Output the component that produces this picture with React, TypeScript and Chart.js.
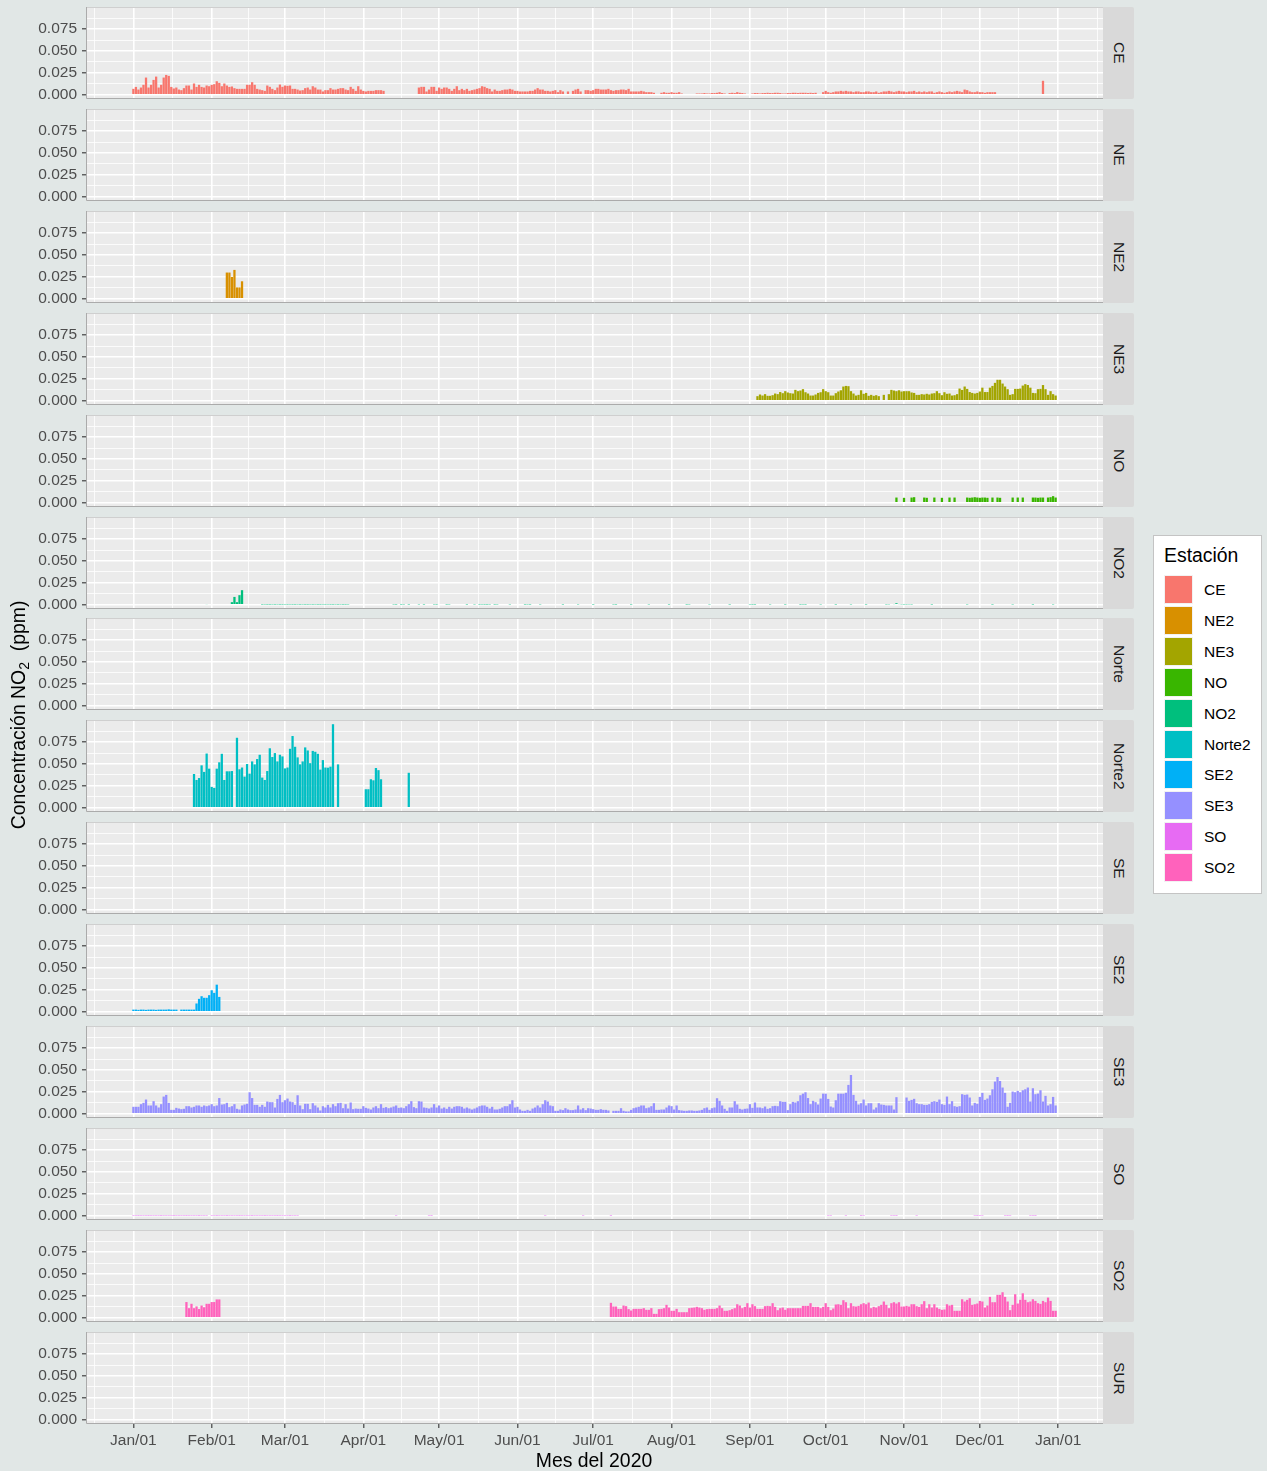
import React, { useEffect, useRef } from "react";
import { Chart, registerables } from "chart.js";

Chart.register(...registerables);

const FONT = "'Liberation Sans', Arial, Helvetica, sans-serif";
Chart.defaults.font.family = FONT;

// ---------- axes ----------
const X_MIN = -18.75;
const X_MAX = 383.75;
const MONTH_DAYS = [0, 31, 60, 91, 121, 152, 182, 213, 244, 274, 305, 335, 366];
const MONTH_LABELS = ["Jan/01", "Feb/01", "Mar/01", "Apr/01", "May/01", "Jun/01", "Jul/01", "Aug/01", "Sep/01", "Oct/01", "Nov/01", "Dec/01", "Jan/01"];
const MINOR_DAYS = [-15.5, 15.5, 45.5, 75.5, 106, 136.5, 167, 197.5, 228.5, 259, 289.5, 320, 350.5, 381.5];

const Y_MIN = -0.0048;
const Y_MAX = 0.1003;
const Y_TICKS = [0, 0.025, 0.05, 0.075];
const Y_TICK_LABELS = ["0.000", "0.025", "0.050", "0.075"];
const Y_MINOR = [0.0125, 0.0375, 0.0625, 0.0875];

// ---------- stations ----------
const STATIONS = ["CE", "NE", "NE2", "NE3", "NO", "NO2", "Norte", "Norte2", "SE", "SE2", "SE3", "SO", "SO2", "SUR"];
const LEGEND_STATIONS = ["CE", "NE2", "NE3", "NO", "NO2", "Norte2", "SE2", "SE3", "SO", "SO2"];
const STATION_COLORS: Record<string, string> = {
  CE: "#F8766D", NE2: "#D89000", NE3: "#A3A500", NO: "#39B600", NO2: "#00BF7D",
  Norte2: "#00BFC4", SE2: "#00B0F6", SE3: "#9590FF", SO: "#E76BF3", SO2: "#FF62BC",
};

// ---------- data: [first day index (0 = Jan 1 2020), daily values in ppm] ----------
type Segment = [number, (number | null)[]];

const CE_SEGMENTS: Segment[] = [
  [0, [
    0.0068, 0.009, 0.006, 0.0083, 0.0114, 0.0197, 0.0083, 0.0114, 0.017, 0.0208,
    0.0083, 0.0114, 0.0197, 0.0227, 0.0216, 0.009, 0.0072, 0.0083, 0.006, 0.0053,
    0.0076, 0.0106, 0.0106, 0.006, 0.0129, 0.009, 0.0114, 0.009, 0.0083, 0.0106,
    0.0098, 0.0114, 0.0121, 0.0155, 0.0136, 0.0098, 0.0129, 0.0106, 0.009, 0.0095,
    0.0076, 0.0068, 0.0068, 0.0068, 0.0068, 0.0114, 0.0114, 0.0144, 0.0114, 0.0068,
    0.006, 0.0053, 0.0045, 0.0106, 0.0091, 0.0068, 0.0053, 0.0083, 0.0117, 0.0091,
    0.0106, 0.0102, 0.0106, 0.0068, 0.0068, 0.006, 0.0049, 0.0053, 0.0076, 0.0083,
    0.006, 0.0098, 0.0083, 0.006, 0.006, 0.0038, 0.0053, 0.0053, 0.0076, 0.006,
    0.006, 0.0068, 0.0076, 0.0076, 0.006, 0.0053, 0.0091, 0.0068, 0.0045, 0.0098,
    0.006, 0.0045, 0.0038, 0.0045, 0.0045, 0.0045, 0.0053, 0.0053, 0.0053, 0.0045,
  ]],
  [113, [
    0.0083, 0.0091, 0.0091, 0.0038, 0.006, 0.0091, 0.0091, 0.0045, 0.0083, 0.0068,
    0.0083, 0.0083, 0.0068, 0.0045, 0.0068, 0.0098, 0.0053, 0.0068, 0.0053, 0.0068,
    0.0045, 0.0053, 0.006, 0.0068, 0.0076, 0.0098, 0.0091, 0.0076, 0.0068, 0.0038,
    0.006, 0.0045, 0.0045, 0.0053, 0.006, 0.006, 0.0068, 0.006, 0.0045, 0.0045,
    0.0038, 0.0038, 0.0038, 0.0038, 0.0045, 0.0045, 0.006, 0.0076, 0.006, 0.006,
    0.0045, 0.0045, 0.0038, 0.0045, 0.0053, 0.003, 0.0053, 0.0038, null, 0.0038,
    null, 0.0045, 0.006, 0.0068, 0.0038, null, 0.0053, 0.0053, 0.0045, 0.0053,
    0.0068, 0.0068, 0.006, 0.006, 0.006, 0.0068, 0.0053, 0.0045, 0.0053, 0.0053,
    0.006, 0.006, 0.0053, 0.0068, 0.0038, 0.0038, 0.0038, 0.0038, 0.0045, 0.0038, 0.003, 0.003, 0.003, 0.0023,
  ]],
  [209, [0.0023, 0.003, 0.0023, 0.0023, 0.003, 0.0023, 0.0023, 0.003, 0.0015]],
  [223, [0.0015, 0.0015, 0.0015, 0.002, 0.0015, 0.0015, 0.002, 0.002, 0.0023, 0.003, 0.002, 0.0015]],
  [236, [0.002, 0.0023, 0.002, 0.003, 0.0023, 0.002, 0.0015]],
  [245, [
    0.0015, 0.002, 0.002, 0.0015, 0.002, 0.002, 0.0023, 0.002, 0.002, 0.0023,
    0.0023, 0.002, 0.0015, 0.0015, 0.002, 0.002, 0.0023, 0.0023, 0.002, 0.0023,
    0.0023, 0.0023, 0.002, 0.0023, 0.002, 0.0023,
  ]],
  [273, [
    0.003, 0.0045, 0.003, 0.0023, 0.003, 0.0038, 0.0038, 0.0045, 0.0038, 0.0045,
    0.0038, 0.0038, 0.003, 0.0038, 0.0038, 0.003, 0.003, 0.0038, 0.0038, 0.003,
    0.003, 0.0038, 0.0023, 0.003, 0.0038, 0.0038, 0.0045, 0.0038, 0.003, 0.0038,
    0.0045, 0.0038, 0.0038, 0.003, 0.0038, 0.0038, 0.0045, 0.003, 0.0038, 0.003,
    0.0038, 0.003, 0.0038, 0.0038, 0.0023, 0.003, 0.0038, 0.003, 0.0023, 0.003,
    0.0038, 0.003, 0.0038, 0.0045, 0.0038, 0.003, 0.006, 0.0053, 0.0038, 0.003,
    0.003, 0.0038, 0.003, 0.003, 0.0023, 0.003, 0.003, 0.003, 0.003,
  ]],
  [360, [0.016]],
];

const NE2_SEGMENTS: Segment[] = [
  [37, [0.03, 0.03, 0.025, 0.033, 0.013, 0.013, 0.02]],
];

const NE3_SEGMENTS: Segment[] = [
  [247, [
    0.0053, 0.0072, 0.006, 0.0076, 0.0057, 0.0057, 0.0064, 0.0083, 0.0076, 0.01,
    0.0087, 0.011, 0.0095, 0.0087, 0.0083, 0.0125, 0.011, 0.0117, 0.0133, 0.0098,
    0.0083, 0.006, 0.006, 0.0072, 0.009, 0.0098, 0.0133, 0.011, 0.0098, 0.006,
    0.006, 0.0087, 0.0106, 0.012, 0.0163, 0.017, 0.0167, 0.011, 0.0083, 0.006,
    0.0068, 0.012, 0.008, 0.009, 0.0057, 0.0068, 0.0057, 0.0064, 0.0053,
  ]],
  [297, [0.0068]],
  [299, [
    0.0076, 0.0125, 0.0117, 0.011, 0.012, 0.0106, 0.011, 0.011, 0.011, 0.0095,
    0.009, 0.0068, 0.0068, 0.0076, 0.0072, 0.008, 0.0072, 0.0083, 0.0087, 0.011,
    0.0087, 0.0064, 0.0098, 0.008, 0.0083, 0.006, 0.0064, 0.0076, 0.014, 0.0125,
    0.0163, 0.0136, 0.01, 0.009, 0.0083, 0.009, 0.0106, 0.015, 0.01, 0.01,
    0.015, 0.017, 0.0205, 0.024, 0.024, 0.0197, 0.0163, 0.0133, 0.0068, 0.0076,
    0.0136, 0.0136, 0.014, 0.0174, 0.019, 0.018, 0.015, 0.009, 0.0087, 0.0133,
    0.0136, 0.018, 0.0133, 0.0068, 0.011, 0.0076, 0.006,
  ]],
];

const NO_SEGMENTS: Segment[] = [
  [302, [0.006]], [305, [0.0057]], [308, [0.006, 0.0064]], [313, [0.006, 0.0057]],
  [317, [0.006]], [320, [0.0057]], [323, [0.006]], [325, [0.006]],
  [330, [0.006, 0.0057, 0.006, 0.0064, 0.006, 0.0057, 0.006, 0.006, 0.0057]],
  [340, [0.006]], [342, [0.006, 0.0057]], [348, [0.006]], [350, [0.006]], [352, [0.006]],
  [356, [0.006, 0.006, 0.0057, 0.006, 0.006]],
  [362, [0.006, 0.0064, 0.0076, 0.006]],
];

const NO2_SEGMENTS: Segment[] = [
  [29, [0.0008]],
  [39, [0.003, 0.009, 0.003, 0.011, 0.0167]],
  [51, [
    0.0004, 0.0005, 0.0004, 0.0004, 0.0005, 0.0004, 0.0005, 0.0004, 0.0004, 0.0005,
    0.0004, 0.0005, 0.0004, 0.0004, 0.0005, 0.0004, 0.0005, 0.0004, 0.0004, 0.0005,
    0.0004, 0.0005, 0.0004, 0.0004, 0.0005, 0.0004, 0.0005, 0.0004, 0.0004, 0.0005,
    0.0004, 0.0005, 0.0004, 0.0004, 0.0005,
  ]],
  [103, [0.0005, 0.0004]], [106, [0.0004, 0.0005]], [109, [0.0004]], [113, [0.0005]],
  [115, [0.0004]], [119, [0.0005, 0.0004]], [124, [0.0004, 0.0005]], [132, [0.0004]],
  [135, [0.0005]], [137, [0.0004, 0.0005, 0.0004, 0.0004, 0.0005]], [143, [0.0004, 0.0005]],
  [149, [0.0005]], [155, [0.0004, 0.0005, 0.0004]], [161, [0.0005]], [170, [0.0004]],
  [176, [0.0005]], [182, [0.0004]], [190, [0.0005, 0.0004]], [197, [0.0004]], [204, [0.0005]],
  [212, [0.0004]], [219, [0.0004, 0.0005]], [228, [0.0005]], [236, [0.0004]],
  [244, [0.0005, 0.0004, 0.0004]], [252, [0.0005]], [258, [0.0004]], [264, [0.0004, 0.0005, 0.0004]],
  [272, [0.0005]], [278, [0.0004]], [284, [0.0005]], [290, [0.0004]], [298, [0.0005, 0.0006]],
  [301, [0.0008, 0.0018, 0.0008, 0.0006, 0.0005, 0.0005, 0.0006, 0.0005]],
  [316, [0.0004]], [330, [0.0005]], [340, [0.0004]], [348, [0.0005]], [356, [0.0004]], [364, [0.0005]],
];

const NORTE2_SEGMENTS: Segment[] = [
  [24, [
    0.0386, 0.0318, 0.034, 0.0485, 0.041, 0.062, 0.0447, 0.0239, 0.0227, 0.0447,
    0.052, 0.0617, 0.0318, 0.0417, 0.0417, 0.042,
  ]],
  [41, [
    0.08, 0.044, 0.046, 0.0356, 0.05, 0.039, 0.053, 0.0496, 0.0557, 0.0606,
    0.0345, 0.0318, 0.042, 0.068, 0.058, 0.0625, 0.053, 0.0606, 0.0587, 0.045,
    0.046, 0.0674, 0.082, 0.0697, 0.0576, 0.0496, 0.053, 0.069, 0.0655, 0.051,
    0.065, 0.064, 0.0617, 0.0436, 0.0545, 0.046, 0.0458, 0.047, 0.0955,
  ]],
  [81, [0.0496]],
  [92, [0.0212, 0.0212, 0.0326, 0.0314, 0.0455, 0.043, 0.0326]],
  [109, [0.04]],
];

const SE2_SEGMENTS: Segment[] = [
  [0, [
    0.0025, 0.0025, 0.0022, 0.0025, 0.0025, 0.0022, 0.0025, 0.0025, 0.0025, 0.0022,
    0.0025, 0.0025, 0.0025, 0.0025, 0.0028, 0.0025, 0.0025, 0.0025,
  ]],
  [19, [
    0.0025, 0.0025, 0.0025, 0.0025, 0.0025, 0.0025,
    0.0095, 0.0148, 0.0178, 0.016, 0.016, 0.019, 0.0246, 0.0216, 0.031, 0.017,
  ]],
];

const SE3_SEGMENTS: Segment[] = [
  [0, [
    0.008, 0.008, 0.008, 0.011, 0.0125, 0.0163, 0.0095, 0.0095, 0.0144, 0.0095,
    0.0072, 0.011, 0.0197, 0.0216, 0.0125, 0.0045, 0.0045, 0.0068, 0.006, 0.0053,
    0.0057, 0.0087, 0.0087, 0.0072, 0.008, 0.0095, 0.0095, 0.008, 0.0095, 0.0087,
    0.0095, 0.011, 0.0087, 0.0095, 0.018, 0.0106, 0.011, 0.0125, 0.0076, 0.0087,
    0.011, 0.0057, 0.0049, 0.0095, 0.0106, 0.0114, 0.0246, 0.018, 0.0102, 0.0102,
    0.008, 0.0102, 0.008, 0.014, 0.0133, 0.0133, 0.0072, 0.017, 0.0216, 0.0133,
    0.0155, 0.0174, 0.014, 0.0133, 0.0102, 0.0212, 0.0095, 0.0053, 0.0114, 0.0114,
    0.0053, 0.0121, 0.0095, 0.0072, 0.0038, 0.0087, 0.0072, 0.0102, 0.0072, 0.011,
    0.0087, 0.0121, 0.0125, 0.0064, 0.011, 0.006, 0.0129, 0.0053, 0.006, 0.0057,
    0.0057, 0.0087, 0.0068, 0.006, 0.0049, 0.0072, 0.0087, 0.0064, 0.011, 0.0068,
    0.0076, 0.0064, 0.0072, 0.0083, 0.0095, 0.0068, 0.0072, 0.0064, 0.0087, 0.011,
    0.0144, 0.0076, 0.0064, 0.0144, 0.014, 0.0072, 0.0068, 0.006, 0.0072, 0.011,
    0.0072, 0.0095, 0.006, 0.0072, 0.0057, 0.008, 0.006, 0.008, 0.0087, 0.0087,
    0.008, 0.006, 0.0072, 0.006, 0.0049, 0.006, 0.0072, 0.0087, 0.0095, 0.0095,
    0.008, 0.006, 0.008, 0.0049, 0.0049, 0.0057, 0.0072, 0.0087, 0.0087, 0.011,
    0.0155, 0.0072, 0.008, 0.0049, 0.0034, 0.0034, 0.0045, 0.0034, 0.006, 0.0072,
    0.0095, 0.0072, 0.011, 0.0155, 0.014, 0.0095, 0.0087, 0.0034, 0.0034, 0.0049,
    0.0042, 0.0064, 0.0049, 0.0042, 0.0042, 0.0049, 0.0095, 0.0049, 0.0064, 0.0042, 0.0064,
    0.006, 0.0053, 0.0045, 0.0045, 0.0053, 0.0045, 0.0045, 0.0038,
  ]],
  [190, [
    0.0034, 0.0034, 0.0034, 0.0064, 0.0034, 0.0027, 0.0027, 0.0045,
    0.0064, 0.0072, 0.008, 0.0095, 0.0095, 0.0064, 0.0072, 0.0087, 0.0121,
    0.0045, 0.0045, 0.0049, 0.0049, 0.0072, 0.0095, 0.0087, 0.0049, 0.0095,
    0.0042, 0.0038, 0.0034, 0.0034, 0.0038, 0.0038, 0.0034, 0.0034, 0.0038, 0.0045,
    0.0064, 0.0072, 0.0045, 0.0064, 0.0072,
    0.0178, 0.0148, 0.0095, 0.0057, 0.0034, 0.0072, 0.0072, 0.0144, 0.0106, 0.0057,
    0.0049, 0.0057, 0.006, 0.011, 0.0068, 0.0129, 0.0072, 0.0072, 0.0064, 0.0083,
    0.0057, 0.0064, 0.0087, 0.0091, 0.0087, 0.0144, 0.0136, 0.0136, 0.0042, 0.011,
    0.0136, 0.0129, 0.0144, 0.0212, 0.023, 0.0246, 0.018, 0.011, 0.0148, 0.0133,
    0.0106, 0.0174, 0.023, 0.023, 0.017, 0.0083, 0.0072, 0.0155, 0.023, 0.023,
    0.023, 0.024, 0.033, 0.0443, 0.0216, 0.0148, 0.0106, 0.0121, 0.0163, 0.0095,
    0.0121, 0.0121, 0.0049, 0.0072, 0.0121, 0.0106, 0.0102, 0.0095, 0.0095, 0.0095, 0.0049, 0.019,
  ]],
  [306, [
    0.0186, 0.0148, 0.0159, 0.0171, 0.0121, 0.011, 0.011, 0.0102, 0.0102, 0.011,
    0.0136, 0.0144, 0.0136, 0.0163, 0.011, 0.0102, 0.0197, 0.011, 0.0144, 0.0087,
    0.008, 0.0087, 0.0224, 0.0216, 0.022, 0.0186, 0.0095, 0.0125, 0.0114, 0.0193,
    0.0239, 0.0159, 0.0174, 0.0212, 0.028, 0.0368, 0.042, 0.0375, 0.03, 0.0239,
    0.008, 0.0125, 0.0254, 0.0246, 0.0262, 0.0246, 0.0269, 0.028, 0.03, 0.014,
    0.0292, 0.0224, 0.0231, 0.0269, 0.014, 0.0205, 0.0095, 0.011, 0.0193, 0.0095,
  ]],
];

const SO_SEGMENTS: Segment[] = [
  [0, [
    0.0004, 0.0004, 0.0003, 0.0004, 0.0004, 0.0004, 0.0003, 0.0004, 0.0004, 0.0004,
    0.0004, 0.0003, 0.0004, 0.0004, 0.0004, 0.0004, 0.0003, 0.0004, 0.0004, 0.0004,
    0.0004, 0.0003, 0.0004, 0.0004, 0.0004, 0.0004, 0.0003, 0.0004, 0.0004, 0.0004,
  ]],
  [31, [
    0.0004, 0.0004, 0.0003, 0.0004, 0.0004, 0.0004, 0.0003, 0.0004, 0.0004, 0.0004,
    0.0004, 0.0003, 0.0004, 0.0004, 0.0004, 0.0004, 0.0003, 0.0004, 0.0004, 0.0004,
    0.0004, 0.0003, 0.0004, 0.0004, 0.0004, 0.0004, 0.0003, 0.0004, 0.0004, 0.0004,
    0.0004, 0.0003, 0.0004, 0.0004, 0.0004,
  ]],
  [104, [0.0004]], [117, [0.0004, 0.0003]], [163, [0.0004]], [178, [0.0004]], [189, [0.0003]],
  [275, [0.0004, 0.0004]], [282, [0.0004]], [288, [0.0003, 0.0004]], [300, [0.0004, 0.0004, 0.0003]],
  [310, [0.0004]], [333, [0.0004, 0.0003, 0.0004, 0.0004]], [345, [0.0004, 0.0003, 0.0004]],
  [355, [0.0004, 0.0004, 0.0003]],
];

const SO2_SEGMENTS: Segment[] = [
  [21, [0.018, 0.011, 0.016, 0.011, 0.013, 0.01, 0.014, 0.012, 0.016, 0.016, 0.018, 0.018, 0.021, 0.021]],
  [189, [
    0.0171, 0.0129, 0.0129, 0.0102, 0.0102, 0.014, 0.0133, 0.0099, 0.0083, 0.0102,
    0.0102, 0.0102, 0.0102, 0.011, 0.0091, 0.0091, 0.011, 0.0045, 0.0045, 0.0099,
    0.0102, 0.011, 0.0148, 0.0117, 0.008, 0.008, 0.0102, 0.0064, 0.0064, 0.0064,
    0.0064, 0.011, 0.0114, 0.0117, 0.0125, 0.0117, 0.011, 0.0091, 0.0099, 0.0102,
    0.0102, 0.0102, 0.011, 0.014, 0.011, 0.008, 0.008, 0.0087, 0.0099, 0.011,
    0.0155, 0.014, 0.011, 0.0125, 0.0167, 0.0117, 0.0155, 0.0133, 0.0102, 0.0102,
    0.0102, 0.0133, 0.0136, 0.0133, 0.0167, 0.0125, 0.0087, 0.011, 0.0117, 0.0091,
    0.011, 0.011, 0.011, 0.011, 0.011, 0.011, 0.0136, 0.0136, 0.0136, 0.0167,
    0.0125, 0.0125, 0.0125, 0.011, 0.0125, 0.0167, 0.0125, 0.0087, 0.0106, 0.0152,
    0.0155, 0.0148, 0.0201, 0.0178, 0.011, 0.0167, 0.0133, 0.0129, 0.0136, 0.0155,
    0.0167, 0.0155, 0.0174, 0.011, 0.0125, 0.0117, 0.0133, 0.0148, 0.0186, 0.0148,
    0.011, 0.0167, 0.0178, 0.0163, 0.0178, 0.0129, 0.0129, 0.0136, 0.0129, 0.0155,
    0.0155, 0.0133, 0.0125, 0.0155, 0.019, 0.011, 0.0155, 0.0117, 0.0155, 0.0117,
    0.0102, 0.0091, 0.0095, 0.0155, 0.014, 0.0148, 0.008, 0.008, 0.008, 0.0212,
    0.0186, 0.0205, 0.0224, 0.0148, 0.0155, 0.0163, 0.0193, 0.0186, 0.0117, 0.014,
    0.0239, 0.0178, 0.0178, 0.0262, 0.0262, 0.0292, 0.0239, 0.0186, 0.0087, 0.0148,
    0.0269, 0.0163, 0.0205, 0.028, 0.0205, 0.0178, 0.0186, 0.0212, 0.0193, 0.0167,
    0.0159, 0.0193, 0.0178, 0.0231, 0.0193, 0.008, 0.008,
  ]],
];

const SEGMENTS_BY_STATION: Record<string, Segment[]> = {
  CE: CE_SEGMENTS, NE: [], NE2: NE2_SEGMENTS, NE3: NE3_SEGMENTS, NO: NO_SEGMENTS,
  NO2: NO2_SEGMENTS, Norte: [], Norte2: NORTE2_SEGMENTS, SE: [], SE2: SE2_SEGMENTS,
  SE3: SE3_SEGMENTS, SO: SO_SEGMENTS, SO2: SO2_SEGMENTS, SUR: [],
};

// ---------- layout / style ----------
const PAGE_BG = "#E1E7E6";
const PANEL_BG = "#EBEBEB";
const STRIP_BG = "#D9D9D9";
const PANEL_TOP0 = 7;
const PANEL_STEP = 101.9;
const PANEL_H = 92;
const PANEL_RIGHT = 1103;
const AXIS_W = 86;
const X_AXIS_H = 30;
const MAJOR_W = 1.6;
const MINOR_W = 0.8;

const panelPlugin = {
  id: "panelDecor",
  beforeDraw(chart: any) {
    const { ctx, chartArea: a } = chart;
    ctx.save();
    ctx.fillStyle = PANEL_BG;
    ctx.fillRect(a.left, a.top, a.right - a.left, a.bottom - a.top);
    ctx.restore();
  },
  afterDraw(chart: any) {
    const { ctx, chartArea: a } = chart;
    ctx.save();
    ctx.lineWidth = 1;
    ctx.strokeStyle = "#CFCFCF";
    ctx.beginPath();
    ctx.moveTo(a.left, a.top + 0.5);
    ctx.lineTo(a.right, a.top + 0.5);
    ctx.stroke();
    ctx.strokeStyle = "#ABABAB";
    ctx.beginPath();
    ctx.moveTo(a.left + 0.5, a.top);
    ctx.lineTo(a.left + 0.5, a.bottom - 0.5);
    ctx.lineTo(a.right, a.bottom - 0.5);
    ctx.stroke();
    ctx.restore();
  },
};

function isMajorX(v: number) { return MONTH_DAYS.indexOf(v) >= 0; }
function isMajorY(v: number) { return Y_TICKS.indexOf(v) >= 0; }

function Panel({ station, index, last }: { station: string; index: number; last: boolean }) {
  const ref = useRef<HTMLCanvasElement | null>(null);
  const top = Math.round(PANEL_TOP0 + index * PANEL_STEP);
  const height = PANEL_H + (last ? X_AXIS_H : 0);

  useEffect(() => {
    if (!ref.current) return;
    const points: { x: number; y: number }[] = [];
    (SEGMENTS_BY_STATION[station] || []).forEach(([start, vals]) => {
      vals.forEach((v, i) => { if (v !== null) points.push({ x: start + i, y: v }); });
    });
    const color = STATION_COLORS[station] || "#888888";
    const xTicks = [...MONTH_DAYS, ...MINOR_DAYS].sort((a, b) => a - b);
    const yTicks = [...Y_TICKS, ...Y_MINOR].sort((a, b) => a - b);

    const chart = new Chart(ref.current, {
      type: "bar",
      data: {
        datasets: [{
          data: points as any,
          backgroundColor: color,
          borderWidth: 0,
          barPercentage: 0.9,
          categoryPercentage: 1,
        }],
      },
      options: {
        animation: false,
        responsive: false,
        events: [],
        layout: { padding: 0 },
        plugins: { legend: { display: false }, tooltip: { enabled: false }, title: { display: false } },
        scales: {
          x: {
            type: "linear",
            min: X_MIN,
            max: X_MAX,
            offset: false,
            afterBuildTicks: (s: any) => { s.ticks = xTicks.map((v) => ({ value: v })); },
            afterFit: (s: any) => { s.height = last ? X_AXIS_H : 0; s.paddingLeft = 0; s.paddingRight = 0; },
            ticks: {
              display: last,
              autoSkip: false,
              maxRotation: 0,
              minRotation: 0,
              padding: 3,
              color: "#4D4D4D",
              font: { size: 15.5, family: FONT },
              callback: (v: any) => { const i = MONTH_DAYS.indexOf(Number(v)); return i >= 0 ? MONTH_LABELS[i] : ""; },
            },
            grid: {
              offset: false,
              color: "#FFFFFF",
              lineWidth: (ctx: any) => (ctx.tick && isMajorX(ctx.tick.value) ? MAJOR_W : MINOR_W),
              drawTicks: last,
              tickLength: 4,
              tickWidth: 1.1,
              tickColor: (ctx: any) => (ctx.tick && isMajorX(ctx.tick.value) ? "#333333" : "rgba(0,0,0,0)"),
            },
            border: { display: false },
          },
          y: {
            type: "linear",
            min: Y_MIN,
            max: Y_MAX,
            afterBuildTicks: (s: any) => { s.ticks = yTicks.map((v) => ({ value: v })); },
            afterFit: (s: any) => { s.width = AXIS_W; s.paddingTop = 0; s.paddingBottom = 0; },
            ticks: {
              autoSkip: false,
              padding: 5,
              color: "#4D4D4D",
              font: { size: 15.5, family: FONT },
              callback: (v: any) => { const i = Y_TICKS.indexOf(Number(v)); return i >= 0 ? Y_TICK_LABELS[i] : ""; },
            },
            grid: {
              color: "#FFFFFF",
              lineWidth: (ctx: any) => (ctx.tick && isMajorY(ctx.tick.value) ? MAJOR_W : MINOR_W),
              drawTicks: true,
              tickLength: 4,
              tickWidth: 1.1,
              tickColor: (ctx: any) => (ctx.tick && isMajorY(ctx.tick.value) ? "#333333" : "rgba(0,0,0,0)"),
            },
            border: { display: false },
          },
        },
      } as any,
      plugins: [panelPlugin],
    });
    return () => chart.destroy();
  }, [station, last]);

  return (
    <>
      <canvas
        ref={ref}
        width={PANEL_RIGHT}
        height={height}
        style={{ position: "absolute", left: 0, top, width: PANEL_RIGHT, height }}
      />
      <div
        style={{
          position: "absolute", left: PANEL_RIGHT, top, width: 31, height: PANEL_H,
          background: STRIP_BG, display: "flex", alignItems: "center", justifyContent: "center",
          borderTopRightRadius: 2, borderBottomRightRadius: 2,
        }}
      >
        <span style={{ writingMode: "vertical-rl", fontFamily: FONT, fontSize: 15.5, color: "#1A1A1A", lineHeight: "16px" }}>
          {station}
        </span>
      </div>
    </>
  );
}

export default function App() {
  useEffect(() => {
    document.body.style.margin = "0";
    document.body.style.background = PAGE_BG;
  }, []);

  return (
    <div style={{ position: "absolute", left: 0, top: 0, width: 1267, height: 1471, background: PAGE_BG, overflow: "hidden", fontFamily: FONT }}>
      {STATIONS.map((s, i) => (
        <Panel key={s} station={s} index={i} last={i === STATIONS.length - 1} />
      ))}

      {/* y-axis title */}
      <div
        style={{
          position: "absolute", left: 18 - 160, top: 715 - 12, width: 320, height: 24,
          textAlign: "center", transform: "rotate(-90deg)", transformOrigin: "50% 50%",
          fontSize: 19.4, lineHeight: "24px", color: "#000", whiteSpace: "nowrap",
        }}
      >
        Concentración NO<span style={{ fontSize: 14, verticalAlign: "-4px" }}>2</span>{"\u00A0\u00A0"}(ppm)
      </div>

      {/* x-axis title */}
      <div
        style={{
          position: "absolute", left: 594 - 150, top: 1460 - 12, width: 300, height: 24,
          textAlign: "center", fontSize: 19.4, lineHeight: "24px", color: "#000",
        }}
      >
        Mes del 2020
      </div>

      {/* legend */}
      <div
        style={{
          position: "absolute", left: 1153, top: 535, width: 107, height: 357,
          background: "#FFFFFF", border: "1px solid #C4C4C4",
        }}
      />
      <div style={{ position: "absolute", left: 1164, top: 545, fontSize: 19.4, lineHeight: "20px", color: "#000" }}>
        Estación
      </div>
      {LEGEND_STATIONS.map((s, i) => {
        const t = 575 + i * 30.9;
        return (
          <React.Fragment key={s}>
            <div
              style={{
                position: "absolute", left: 1164, top: t, width: 29, height: 29, boxSizing: "border-box",
                background: STATION_COLORS[s], border: "1px solid #F2F2F2",
              }}
            />
            <div style={{ position: "absolute", left: 1204, top: t, height: 29, lineHeight: "29px", fontSize: 15.5, color: "#000" }}>
              {s}
            </div>
          </React.Fragment>
        );
      })}
    </div>
  );
}
